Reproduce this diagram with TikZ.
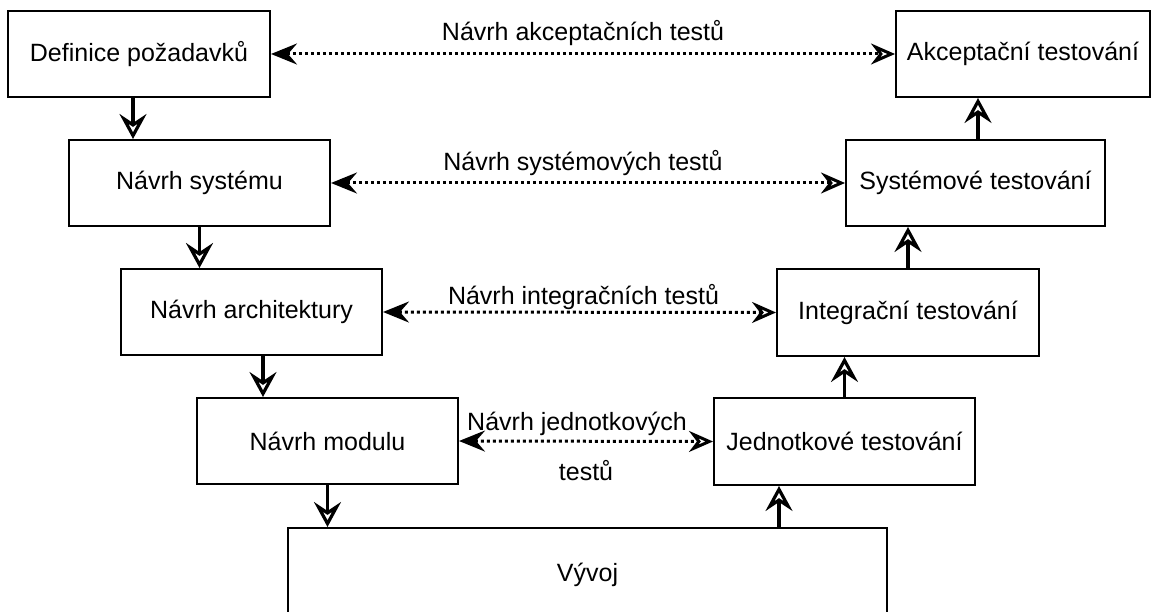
\documentclass[tikz,border=0pt]{standalone}
\usepackage{fontspec}
\setmainfont{Liberation Sans}
\usetikzlibrary{arrows.meta}
\begin{document}
\begin{tikzpicture}[x=1pt,y=-1pt,
  box/.style={draw, line width=2pt, rectangle, inner sep=0pt, minimum height=86pt, font=\fontsize{25}{30}\selectfont},
  flow/.style={line width=3.2pt, -{Stealth[open, length=25pt, width=27pt, inset=9pt]}},
  test/.style={line width=3pt, dash pattern=on 3pt off 3pt, {Stealth[length=26pt,width=21pt,inset=9pt]}-{Stealth[open,length=24pt,width=21pt,inset=8pt,line width=3pt]}},
  lbl/.style={font=\fontsize{25}{30}\selectfont, inner sep=0pt}]
\clip (0,0) rectangle (1157,612);
% left branch
\node[box, minimum width=262pt] (req) at (139,54) {Definice požadavků};
\node[box, minimum width=261pt] (sys) at (199.5,183) {Návrh systému};
\node[box, minimum width=261pt] (arch) at (251.5,312) {Návrh architektury};
\node[box, minimum width=261pt] (mod) at (327.5,441) {Návrh modulu};
% bottom
\node[box, minimum width=599pt, minimum height=94pt] (dev) at (587.5,575) {Vývoj};
% right branch
\node[box, minimum width=254pt] (acc) at (1023,54) {Akceptační testování};
\node[box, minimum width=259pt] (syst) at (975.5,183) {Systémové testování};
\node[box, minimum width=262pt, minimum height=87pt] (integ) at (908,312.5) {Integrační testování};
\node[box, minimum width=261pt, minimum height=87pt] (unit) at (844.5,441.5) {Jednotkové testování};
% flow down
\draw[flow] ([xshift=-6pt]req.south) -- ([xshift=-6pt]req.south |- sys.north);
\draw[flow] (sys.south) -- (sys.south |- arch.north);
\draw[flow] ([xshift=11.5pt]arch.south) -- ([xshift=11.5pt]arch.south |- mod.north);
\draw[flow] (mod.south) -- (mod.south |- dev.north);
% flow up
\draw[flow] ([xshift=-65.5pt]unit.south |- dev.north) -- ([xshift=-65.5pt]unit.south);
\draw[flow] (unit.north) -- (unit.north |- integ.south);
\draw[flow] (integ.north) -- (integ.north |- syst.south);
\draw[flow] ([xshift=2.5pt]syst.north) -- ([xshift=2.5pt]syst.north |- acc.south);
% test design links
\draw[test] (req.east) -- node[lbl, yshift=21pt] (l1) {Návrh akceptačních testů} (acc.west);
\draw[test] (sys.east) -- node[lbl, yshift=20pt, xshift=-5pt] (l2) {Návrh systémových testů} (syst.west);
\draw[test] (arch.east) -- node[lbl, yshift=15pt, xshift=4pt] (l3) {Návrh integračních testů} (integ.west);
\draw[test] (mod.east) -- node[lbl, align=center, yshift=-5pt] (l4) {\hspace*{-18pt}Návrh jednotkových\\[20pt]testů} (unit.west);
\end{tikzpicture}
\end{document}
